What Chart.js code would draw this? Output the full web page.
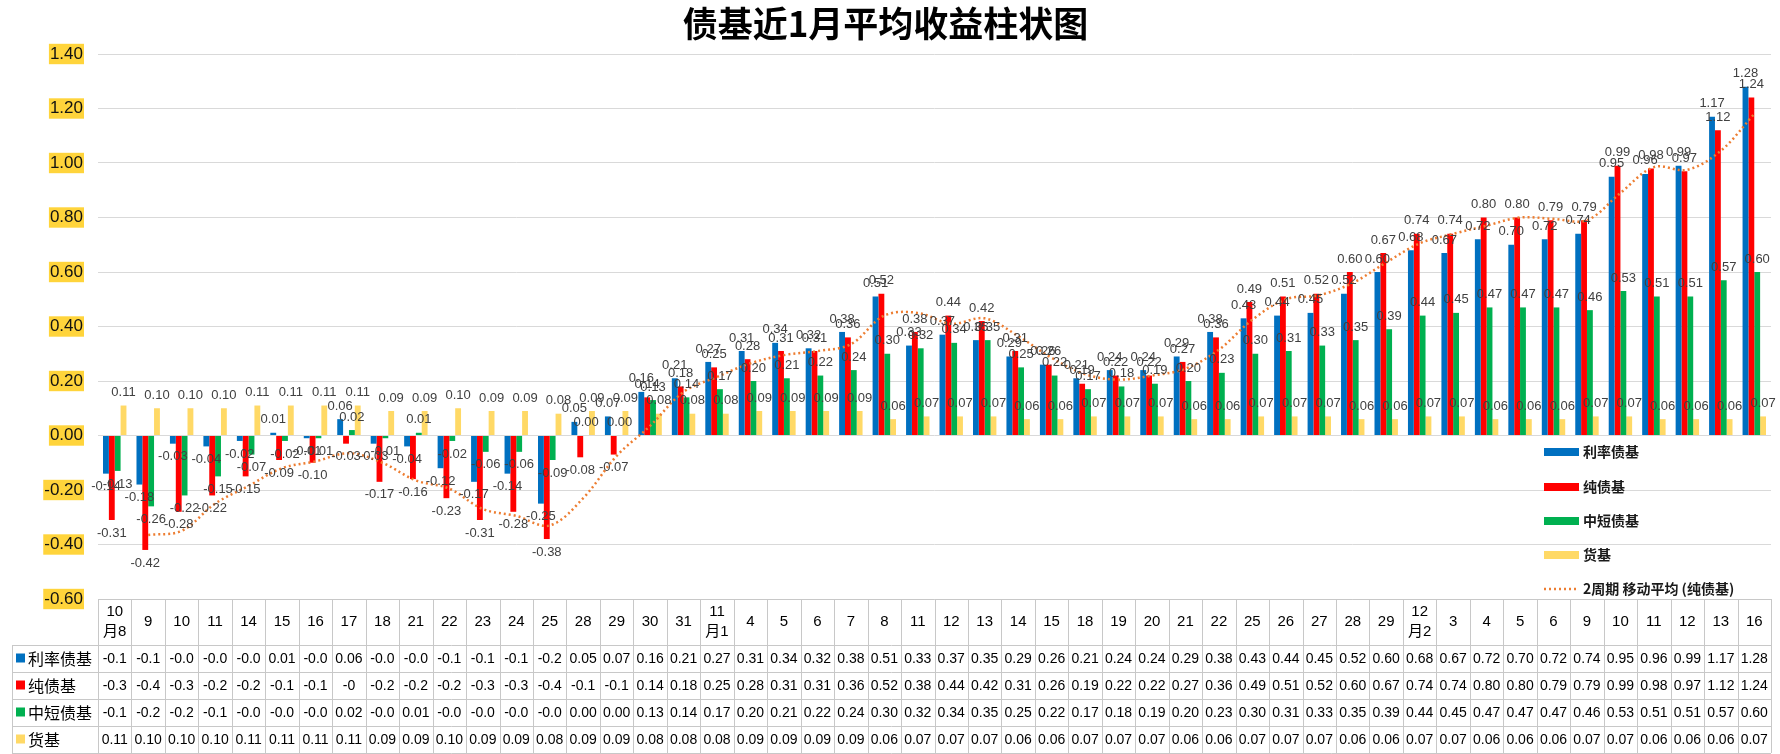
<!DOCTYPE html>
<html>
<head>
<meta charset="utf-8">
<title>债基近1月平均收益柱状图</title>
<script src="https://cdn.jsdelivr.net/npm/chart.js@4.4.1/dist/chart.umd.min.js"></script>
<style>
  html, body { margin: 0; padding: 0; background: #fff; }
  #wrap { width: 1780px; height: 754px; }
</style>
</head>
<body>
<div id="wrap"><canvas id="bondChart" width="1780" height="754"></canvas></div>
<script>
'use strict';

// categories (trading days); month starts are two-line labels
const categories = [
  ['10', '月8'], '9', '10', '11', '14', '15', '16', '17', '18', '21', '22', '23', '24', '25', '28', '29', '30', '31',
  ['11', '月1'], '4', '5', '6', '7', '8', '11', '12', '13', '14', '15', '18', '19', '20', '21', '22', '25', '26', '27', '28', '29',
  ['12', '月2'], '3', '4', '5', '6', '9', '10', '11', '12', '13', '16'
];

const rateBond = [-0.14, -0.18, -0.03, -0.04, -0.02, 0.01, -0.01, 0.06, -0.03, -0.04, -0.12, -0.17, -0.14, -0.25, 0.05, 0.07,
  0.16, 0.21, 0.27, 0.31, 0.34, 0.32, 0.38, 0.51, 0.33, 0.37, 0.35, 0.29, 0.26, 0.21, 0.24, 0.24, 0.29, 0.38,
  0.43, 0.44, 0.45, 0.52, 0.60, 0.68, 0.67, 0.72, 0.70, 0.72, 0.74, 0.95, 0.96, 0.99, 1.17, 1.28];

const pureBond = [-0.31, -0.42, -0.28, -0.22, -0.15, -0.09, -0.10, -0.03, -0.17, -0.16, -0.23, -0.31, -0.28, -0.38, -0.08, -0.07,
  0.14, 0.18, 0.25, 0.28, 0.31, 0.31, 0.36, 0.52, 0.38, 0.44, 0.42, 0.31, 0.26, 0.19, 0.22, 0.22, 0.27, 0.36,
  0.49, 0.51, 0.52, 0.60, 0.67, 0.74, 0.74, 0.80, 0.80, 0.79, 0.79, 0.99, 0.98, 0.97, 1.12, 1.24];

const shortBond = [-0.13, -0.26, -0.22, -0.15, -0.07, -0.02, -0.01, 0.02, -0.01, 0.01, -0.02, -0.06, -0.06, -0.09, 0.00, 0.00,
  0.13, 0.14, 0.17, 0.20, 0.21, 0.22, 0.24, 0.30, 0.32, 0.34, 0.35, 0.25, 0.22, 0.17, 0.18, 0.19, 0.20, 0.23,
  0.30, 0.31, 0.33, 0.35, 0.39, 0.44, 0.45, 0.47, 0.47, 0.47, 0.46, 0.53, 0.51, 0.51, 0.57, 0.60];

const moneyFund = [0.11, 0.10, 0.10, 0.10, 0.11, 0.11, 0.11, 0.11, 0.09, 0.09, 0.10, 0.09, 0.09, 0.08, 0.09, 0.09,
  0.08, 0.08, 0.08, 0.09, 0.09, 0.09, 0.09, 0.06, 0.07, 0.07, 0.07, 0.06, 0.06, 0.07, 0.07, 0.07, 0.06, 0.06,
  0.07, 0.07, 0.07, 0.06, 0.06, 0.07, 0.07, 0.06, 0.06, 0.06, 0.07, 0.07, 0.06, 0.06, 0.06, 0.07];

// Excel "2 period moving average" trendline on 纯债基
const pureMovingAvg = pureBond.map((v, i) => (i === 0 ? null : (pureBond[i - 1] + v) / 2));

// the data table shows negatives cut to one decimal (truncated or rounded depending on the row)
const series = [
  { name: '利率债基', data: rateBond, color: '#0070C0', negMode: 'trunc' },
  { name: '纯债基', data: pureBond, color: '#FF0000', negMode: 'round' },
  { name: '中短债基', data: shortBond, color: '#00B050', negMode: 'trunc' },
  { name: '货基', data: moneyFund, color: '#FFD966', negMode: 'trunc' },
];

const CJK = '"Noto Sans CJK SC", sans-serif';
const NUM = '"Liberation Sans Narrow", "Liberation Sans", "Noto Sans CJK SC", sans-serif';

function cellText(v, mode) {
  if (v >= 0) return v.toFixed(2);
  const a = Math.abs(v) * 10;
  const n = mode === 'trunc' ? Math.floor(a + 1e-9) : Math.round(a);
  if (mode === 'round' && n === 0) return '-0';
  return '-' + (n / 10).toFixed(1);
}

function hline(ctx, x1, x2, y) {
  ctx.beginPath();
  ctx.moveTo(x1, Math.round(y) + 0.5);
  ctx.lineTo(x2, Math.round(y) + 0.5);
  ctx.stroke();
}
function vline(ctx, x, y1, y2) {
  ctx.beginPath();
  ctx.moveTo(Math.round(x) + 0.5, y1);
  ctx.lineTo(Math.round(x) + 0.5, y2);
  ctx.stroke();
}

const barLabels = {
  id: 'barLabels',
  afterDatasetsDraw(chart) {
    const ctx = chart.ctx;
    ctx.save();
    ctx.font = '13px ' + NUM;
    ctx.fillStyle = '#404040';
    ctx.textAlign = 'center';
    ctx.textBaseline = 'middle';
    chart.data.datasets.forEach((ds, di) => {
      if (ds.type === 'line') return;
      chart.getDatasetMeta(di).data.forEach((bar, i) => {
        const v = ds.data[i];
        ctx.fillText(v.toFixed(2), bar.x, v >= 0 ? bar.y - 13 : bar.y + 13);
      });
    });
    ctx.restore();
  }
};

const sideLegend = {
  id: 'sideLegend',
  afterDraw(chart) {
    const ctx = chart.ctx;
    const x = 1544, w = 35;
    const rows = [452, 487, 521, 555, 589];
    ctx.save();
    ctx.font = 'bold 14px ' + CJK;
    ctx.textBaseline = 'middle';
    ctx.textAlign = 'left';
    series.forEach((s, i) => {
      ctx.fillStyle = s.color;
      ctx.fillRect(x, rows[i] - 4, w, 8);
      ctx.fillStyle = '#1a1a1a';
      ctx.fillText(s.name, x + 39, rows[i]);
    });
    ctx.strokeStyle = '#ED7D31';
    ctx.lineWidth = 2.5;
    ctx.setLineDash([2, 3]);
    ctx.beginPath();
    ctx.moveTo(x, rows[4]);
    ctx.lineTo(x + w, rows[4]);
    ctx.stroke();
    ctx.setLineDash([]);
    ctx.fillStyle = '#1a1a1a';
    ctx.fillText('2周期 移动平均 (纯债基)', x + 39, rows[4]);
    ctx.restore();
  }
};

const dataTable = {
  id: 'dataTable',
  afterDraw(chart) {
    const { ctx, chartArea: ca, scales: { x } } = chart;
    const colW = ca.width / categories.length;
    const top = ca.bottom;
    const headH = 46, rowH = 27, tableLeft = 12;
    const bottom = top + headH + rowH * series.length;
    ctx.save();
    ctx.strokeStyle = '#C8C8C8';
    ctx.lineWidth = 1;
    hline(ctx, ca.left, ca.right, top);
    for (let r = 0; r <= series.length; r++) hline(ctx, tableLeft, ca.right, top + headH + r * rowH);
    for (let i = 0; i <= categories.length; i++) vline(ctx, ca.left + i * colW, top, bottom);
    vline(ctx, tableLeft, top + headH, bottom);

    ctx.fillStyle = '#000';
    ctx.textAlign = 'center';
    ctx.textBaseline = 'middle';
    ctx.font = '15px ' + NUM;
    categories.forEach((c, i) => {
      const cx = x.getPixelForValue(i);
      if (Array.isArray(c)) {
        ctx.fillText(c[0], cx, top + 13);
        ctx.fillText(c[1], cx, top + 33);
      } else {
        ctx.fillText(c, cx, top + 23);
      }
    });

    series.forEach((s, r) => {
      const cy = top + headH + r * rowH + rowH / 2;
      ctx.font = '14px ' + NUM;
      ctx.textAlign = 'center';
      ctx.fillStyle = '#000';
      s.data.forEach((v, i) => ctx.fillText(cellText(v, s.negMode), x.getPixelForValue(i), cy + 1));
      ctx.fillStyle = s.color;
      ctx.fillRect(16, cy - 5, 9, 9);
      ctx.fillStyle = '#000';
      ctx.textAlign = 'left';
      ctx.font = '16px ' + CJK;
      ctx.fillText(s.name, 28, cy);
    });
    ctx.restore();
  }
};

const datasets = [
  {
    type: 'line',
    label: '2周期 移动平均 (纯债基)',
    data: pureMovingAvg,
    borderColor: '#ED7D31',
    borderWidth: 2.5,
    borderDash: [2, 3],
    pointRadius: 0,
    tension: 0.35,
    fill: false,
    order: 0,
  },
].concat(series.map((s) => ({
  label: s.name,
  data: s.data,
  backgroundColor: s.color,
  categoryPercentage: 0.7,
  barPercentage: 1.0,
  order: 1,
})));

new Chart(document.getElementById('bondChart').getContext('2d'), {
  type: 'bar',
  data: { labels: categories, datasets },
  options: {
    responsive: false,
    animation: false,
    devicePixelRatio: 1,
    layout: { padding: { left: 0, right: 9, top: 0, bottom: 155 } },
    plugins: {
      legend: { display: false },
      tooltip: { enabled: false },
      title: {
        display: true,
        text: '债基近1月平均收益柱状图',
        color: '#000',
        font: { family: CJK, size: 35, weight: 'bold' },
        padding: { top: 3, bottom: 9 },
      },
    },
    scales: {
      x: { display: false, offset: true, grid: { display: false } },
      y: {
        min: -0.6,
        max: 1.4,
        afterFit(scale) { scale.width = 98; },
        border: { display: false },
        grid: { color: '#D9D9D9', lineWidth: 1, drawTicks: false },
        ticks: {
          stepSize: 0.2,
          padding: 15,
          color: '#111',
          font: { family: NUM, size: 17 },
          showLabelBackdrop: true,
          backdropColor: '#FFD43B',
          backdropPadding: { left: 1, right: 1, top: 0, bottom: 0 },
          callback: (v) => (Math.abs(v) < 1e-9 ? '0.00' : Number(v).toFixed(2)),
        },
      },
    },
  },
  plugins: [barLabels, sideLegend, dataTable],
});
</script>
</body>
</html>
